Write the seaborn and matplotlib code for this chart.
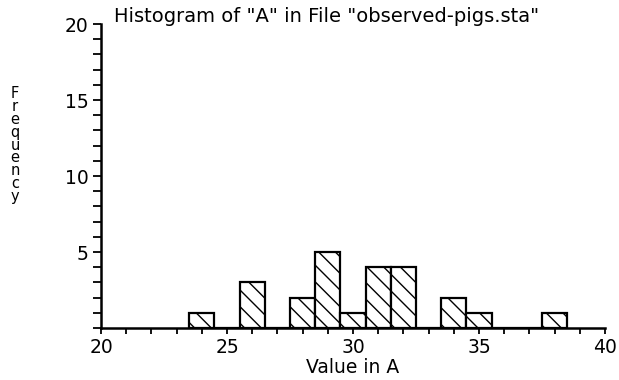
import matplotlib
matplotlib.use("Agg")
import matplotlib.pyplot as plt
import seaborn as sns
from matplotlib.ticker import MultipleLocator

values = [24, 26, 28, 29, 30, 31, 32, 34, 35, 38]
counts = [1, 3, 2, 5, 1, 4, 4, 2, 1, 1]
x_ticks = [20, 25, 30, 35, 40]
y_ticks = [5, 10, 15, 20]
title = 'Histogram of "A" in File "observed-pigs.sta"'
xlabel = "Value in A"
ylabel = "Frequency"

sns.set_style("ticks")
plt.rcParams['font.family'] = ['DejaVu Sans']
plt.rcParams['text.color'] = 'black'
plt.rcParams['hatch.linewidth'] = 1.0
plt.rcParams['hatch.color'] = 'black'

fig = plt.figure(figsize=(6.19, 3.80), dpi=100)
ax = fig.add_axes([101/619, 1 - 328/380, (605 - 101)/619, (328 - 24)/380])

sns.histplot(x=values, weights=counts, discrete=True, shrink=1.0, ax=ax,
             fill=True, color='white', edgecolor='black', linewidth=1.6,
             alpha=1.0)
for p in ax.patches:
    p.set_hatch('\\\\')
    p.set_facecolor('white')

ax.set_xlim(20, 40)
ax.set_ylim(0, 20)
ax.set_xticks(x_ticks)
ax.set_yticks(y_ticks)
ax.xaxis.set_minor_locator(MultipleLocator(1))
ax.yaxis.set_minor_locator(MultipleLocator(1))
ax.tick_params(axis='both', which='both', direction='out', width=1.3, color='black',
               labelsize=13.5, labelcolor='black')
ax.tick_params(axis='y', which='both', length=6, pad=3)
ax.tick_params(axis='x', which='both', length=4, pad=3)
for s in ['top', 'right']:
    ax.spines[s].set_visible(False)
for s in ['left', 'bottom']:
    ax.spines[s].set_linewidth(1.8)
    ax.spines[s].set_color('black')
ax.set_xlabel(xlabel, fontsize=13.5, labelpad=1, color='black')
ax.set_ylabel('')

fig.text(114/619, 1 - 17/380, title, fontsize=14, va='center', ha='left')
fig.text(15/619, 1 - 145/380, "\n".join(ylabel), fontsize=10.5, va='center', ha='center',
         linespacing=0.82)

fig.savefig("out.png", dpi=100)
